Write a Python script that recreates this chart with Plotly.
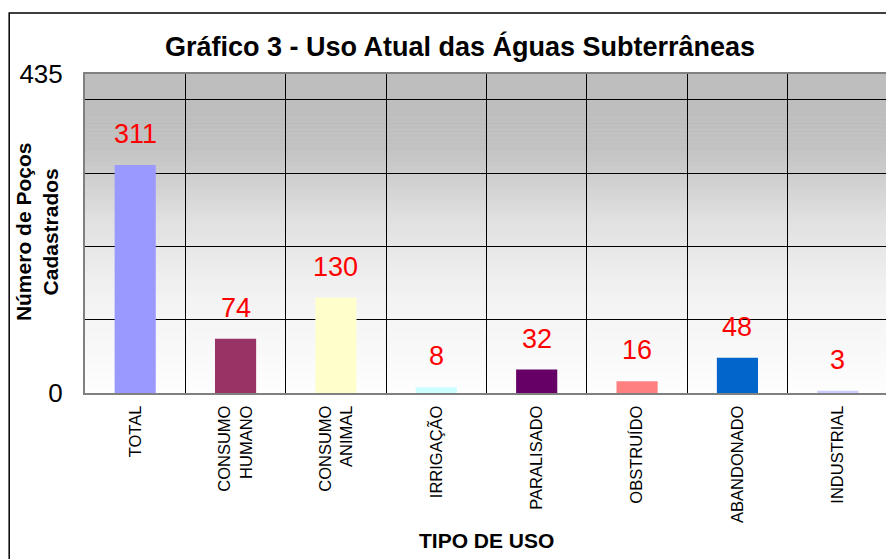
import plotly.graph_objects as go
import numpy as np

categories = ["TOTAL", "CONSUMO<br>HUMANO", "CONSUMO<br>ANIMAL", "IRRIGAÇÃO",
              "PARALISADO", "OBSTRUÍDO", "ABANDONADO", "INDUSTRIAL"]
values = [311, 74, 130, 8, 32, 16, 48, 3]
bar_colors = ["#9999FF", "#993366", "#FFFFCC", "#CCFFFF",
              "#660066", "#FF8080", "#0066CC", "#CCCCFF"]
y_tickvals = [0, 100, 200, 300, 400, 435]
y_ticktext = ["0", "", "", "", "", "435"]

# page is 894x559 but the body has an 8px margin
OX, OY = 8, 8
W, H = 894 - OX, 559 - OY
# plot area in page pixels: x 85..890, y 74..393
L, R, T, B = 85 - OX, W - (890 - OX), 74 - OY, H - (393 - OY)
pw, ph = W - L - R, H - T - B

def px_x(x):
    return (x - OX - L) / pw

def px_y(y):
    return (H - B - (y - OY)) / ph

FONT = "Liberation Sans, Arial"

fig = go.Figure()
fig.add_trace(go.Bar(x=categories, y=values, marker=dict(color=bar_colors, line=dict(width=0)),
                     width=0.41, hoverinfo="x+y"))

# data labels
for c, v in zip(categories, values):
    fig.add_annotation(x=c, y=v, text=str(v), showarrow=False, yshift=31,
                       yanchor="middle", font=dict(color="#FF0000", size=27, family=FONT))

# gradient background
ctrl_t = [0.0, 0.31, 0.54, 0.77, 0.85, 1.0]
ctrl_g = [254, 242, 225, 194, 190, 190]
n = 80
shapes = []
for i in range(n):
    t0, t1 = i / n, (i + 1) / n
    g = int(round(np.interp((t0 + t1) / 2, ctrl_t, ctrl_g)))
    shapes.append(dict(type="rect", xref="x domain", yref="y domain", x0=0, x1=1,
                       y0=t0, y1=t1 + 0.002, fillcolor=f"rgb({g},{g},{g})",
                       line=dict(width=0), layer="below"))
# outer frame
shapes.append(dict(type="rect", xref="paper", yref="paper",
                   x0=px_x(9), x1=px_x(910), y0=px_y(13), y1=px_y(580),
                   line=dict(color="#000000", width=1.5), fillcolor="rgba(0,0,0,0)",
                   layer="above"))
fig.update_layout(shapes=shapes)

fig.add_annotation(xref="paper", yref="paper", x=px_x(37), y=px_y(232),
                   xanchor="center", yanchor="middle",
                   text="<b>Número de Poços<br>Cadastrados</b>", textangle=-90,
                   showarrow=False, font=dict(size=21, color="#000000", family=FONT))
fig.add_annotation(xref="paper", yref="paper", x=px_x(487), y=px_y(540),
                   xanchor="center", yanchor="middle",
                   text="<b>TIPO DE USO</b>", showarrow=False,
                   font=dict(size=21, color="#000000", family=FONT))

fig.update_layout(
    width=W, height=H,
    margin=dict(l=L, r=R, t=T, b=B),
    paper_bgcolor="white", plot_bgcolor="rgba(0,0,0,0)",
    showlegend=False,
    font=dict(family=FONT, color="#000000"),
    title=dict(text="<b>Gráfico 3 - Uso Atual das Águas Subterrâneas</b>",
               x=(460 - OX) / W, xanchor="center", y=1 - (47 - OY) / H, yanchor="middle",
               font=dict(size=27, color="#000000", family=FONT)),
    xaxis=dict(type="category", tickangle=-90, tickfont=dict(size=16.5),
               showgrid=True, gridcolor="#000000", gridwidth=1, tickson="boundaries",
               ticks="", ticklabelstandoff=4,
               showline=True, linecolor="#808080", linewidth=2, mirror=True,
               fixedrange=True),
    yaxis=dict(range=[0, 435], tickvals=y_tickvals, ticktext=y_ticktext,
               tickfont=dict(size=26), ticks="inside", ticklen=8, tickcolor="#000000",
               ticklabelstandoff=15,
               showgrid=True, gridcolor="#000000", gridwidth=1, zeroline=False,
               showline=True, linecolor="#808080", linewidth=2, mirror=True,
               fixedrange=True),
)

fig.write_html("out.html")
